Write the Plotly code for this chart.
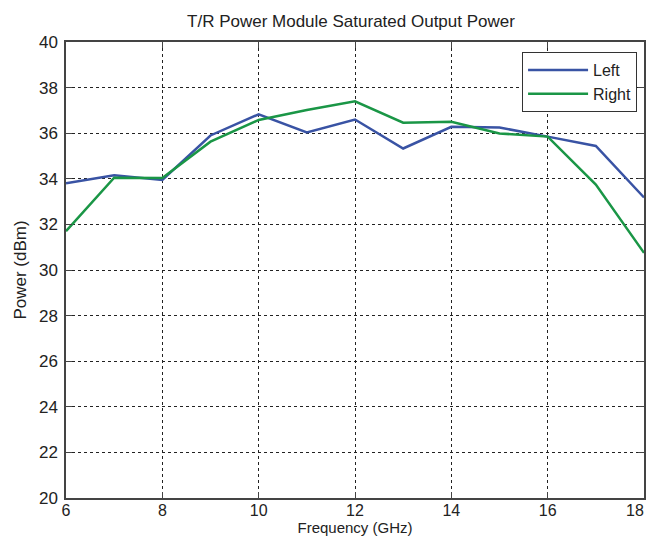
import plotly.graph_objects as go

freq = [6, 7, 8, 9, 10, 11, 12, 13, 14, 15, 16, 17, 18]
left = [33.8, 34.15, 33.95, 35.9, 36.83, 36.03, 36.6, 35.33, 36.28, 36.25, 35.85, 35.44, 33.18]
right = [31.7, 34.05, 34.03, 35.63, 36.58, 37.02, 37.4, 36.46, 36.5, 35.99, 35.85, 33.75, 30.75]

x_ticks = [6, 8, 10, 12, 14, 16, 18]
x_tick_labels = ["6", "8", "10", "12", "14", "16", "18"]
y_ticks = [20, 22, 24, 26, 28, 30, 32, 34, 36, 38, 40]

fig = go.Figure()
fig.add_trace(go.Scatter(x=freq, y=left, mode="lines", name="Left",
                         line=dict(color="#3953a4", width=2.5)))
fig.add_trace(go.Scatter(x=freq, y=right, mode="lines", name="Right",
                         line=dict(color="#1a9646", width=2.5)))

axis_common = dict(showgrid=True, gridcolor="#222222", griddash="3px,3px", gridwidth=1,
                   showline=True, linecolor="#444444", linewidth=1.5, mirror="ticks",
                   ticks="inside", ticklen=6, tickcolor="#444444", zeroline=False)

# the last x label sits at the figure's right edge: draw it right-aligned to the tick
fig.update_xaxes(range=[6, 18], tickvals=x_ticks, ticktext=x_tick_labels[:-1] + [""],
                 ticklabelstandoff=-3, tickfont=dict(size=16, color="#222222"),
                 title=dict(text="Frequency (GHz)", standoff=0,
                            font=dict(size=15, color="#222222")), **axis_common)
fig.update_yaxes(range=[20, 40], tickvals=y_ticks, ticklabelstandoff=3,
                 tickfont=dict(size=17, color="#222222"),
                 title=dict(text="Power (dBm)", standoff=8,
                            font=dict(size=17, color="#222222")), **axis_common)

fig.add_annotation(x=x_ticks[-1], xref="x", y=0, yref="paper", text=x_tick_labels[-1],
                   showarrow=False, xanchor="right", yanchor="middle", xshift=2, yshift=-12,
                   font=dict(size=16, color="#222222"))

fig.update_layout(
    width=638, height=529,
    margin=dict(l=58, r=2, t=34, b=39, autoexpand=False),
    paper_bgcolor="white", plot_bgcolor="white",
    font=dict(family="Liberation Sans, Arial, sans-serif", size=16, color="#222222"),
    title=dict(text="T/R Power Module Saturated Output Power", x=0.5376, xanchor="center",
               y=1 - 13 / 529, yanchor="middle", font=dict(size=17, color="#222222")),
    legend=dict(x=0.988, y=0.978, xanchor="right", yanchor="top", bgcolor="white",
                bordercolor="#333333", borderwidth=1, itemwidth=60,
                font=dict(size=16, color="#222222"), tracegroupgap=0),
    showlegend=True,
)

fig.write_html("out.html")
